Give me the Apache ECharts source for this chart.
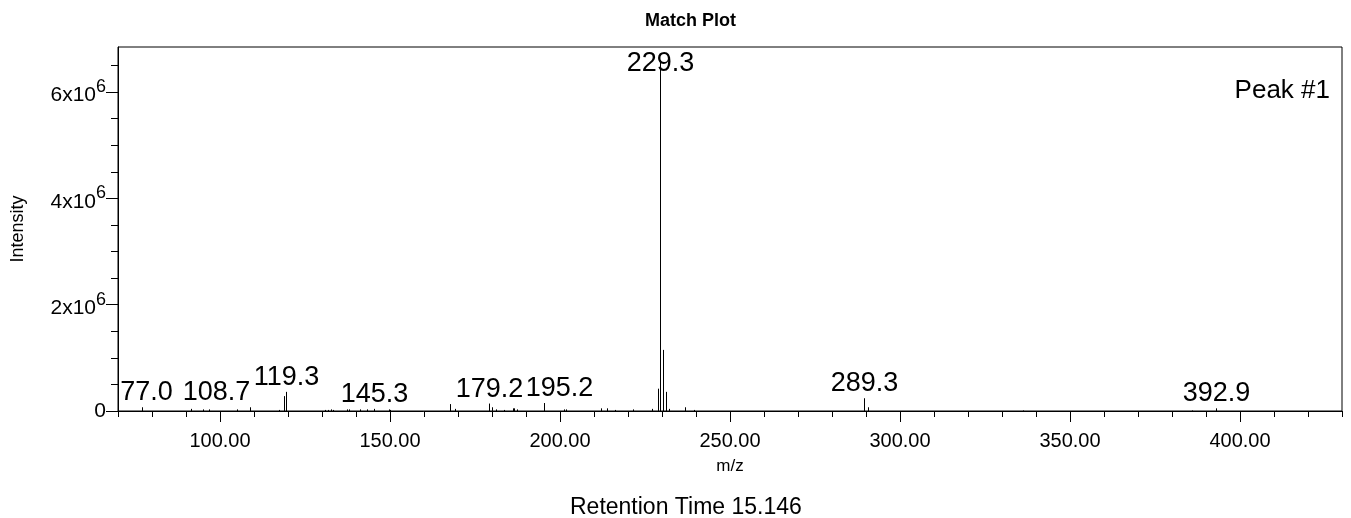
<!DOCTYPE html>
<html><head><meta charset="utf-8">
<script src="https://cdn.jsdelivr.net/npm/echarts@6/dist/echarts.min.js"></script>
<style>html,body{margin:0;padding:0;background:#fff}#c{width:1351px;height:518px}</style>
</head><body><div id="c"></div>
<script>
// ---- data ----
const mzValues = [77.0, 91.5, 95.0, 96.8, 105.1, 108.7, 117.3, 118.8, 119.3, 131.0, 131.8, 132.6, 133.2,
  137.3, 137.8, 141.2, 143.2, 145.3, 149.6, 150.1, 167.5, 169.0, 179.2, 180.1, 181.1, 183.4, 186.2, 186.6,
  187.4, 195.2, 201.3, 201.9, 212.2, 213.9, 216.3, 221.6, 227.2, 228.7, 229.3, 230.2, 231.2, 232.2, 236.9,
  239.3, 289.3, 290.6, 336.2, 386.0, 392.9];
const intensityMillions = [0.07, 0.04, 0.03, 0.03, 0.03, 0.07, 0.02, 0.28, 0.36, 0.02, 0.02, 0.03, 0.02,
  0.03, 0.03, 0.03, 0.03, 0.04, 0.03, 0.02, 0.13, 0.04, 0.14, 0.07, 0.03, 0.02, 0.05, 0.05,
  0.03, 0.15, 0.03, 0.03, 0.05, 0.05, 0.02, 0.03, 0.04, 0.42, 6.60, 1.15, 0.36, 0.04, 0.07,
  0.02, 0.24, 0.07, 0.01, 0.01, 0.05];
const labeledMz = [77.0, 108.7, 119.3, 145.3, 179.2, 195.2, 229.3, 289.3, 392.9];
const xMajorTicks = [100, 150, 200, 250, 300, 350, 400];
const yMajorTicks = [0, 2e6, 4e6, 6e6];
const titleText = 'Match Plot';
const peakName = 'Peak #1';
const retentionText = 'Retention Time 15.146';

// ---- layout / style ----
const X_MIN = 70, X_MAX = 430, Y_MAX = 6.85e6;
const FONT = '"Liberation Sans", Arial, sans-serif';
const LABEL_SIZE = 27;
const labelShift = { '77.0': 4, '108.7': -34, '195.2': 15 };

const yMinorTicks = [];
for (let v = 0; v <= 6.5e6 + 1; v += 0.5e6) yMinorTicks.push(v);

const seriesData = mzValues.map((mz, i) => [mz, intensityMillions[i] * 1e6, labeledMz.indexOf(mz)]);

const chart = echarts.init(document.getElementById('c'), null, { renderer: 'canvas' });

function renderItem(params, api) {
  const x = api.value(0), y = api.value(1);
  const li = api.value(2);
  const p0 = api.coord([x, 0]);
  const p1 = api.coord([x, y]);
  const px = Math.round(p0[0]) + 0.5;
  const children = [{
    type: 'line',
    shape: { x1: px, y1: p0[1], x2: px, y2: p1[1] },
    style: { stroke: '#000', lineWidth: 1 }
  }];
  if (li >= 0) {
    const lab = labeledMz[li].toFixed(1);
    const cs = params.coordSys;
    let ty = p1[1] - 1, va = 'bottom';
    if (ty - LABEL_SIZE < cs.y) { ty = cs.y + 3; va = 'top'; }
    children.push({
      type: 'text',
      x: px + (labelShift[lab] || 0),
      y: ty,
      style: {
        text: lab, fill: '#000',
        font: LABEL_SIZE + 'px ' + FONT,
        textAlign: 'center', textVerticalAlign: va
      }
    });
  }
  return { type: 'group', children };
}

function yLabel(v) {
  if (v === 0) return '{a|0}';
  return '{a|' + Math.round(v / 1e6) + 'x10}{b|6}';
}

const option = {
  animation: false,
  backgroundColor: '#fff',
  textStyle: { fontFamily: FONT, color: '#000' },
  grid: { left: 118, right: 9, top: 47, bottom: 107, show: true, borderColor: '#000', borderWidth: 1,
    backgroundColor: 'transparent', containLabel: false, outerBoundsMode: 'none' },
  xAxis: [{
    type: 'value', min: X_MIN, max: X_MAX, interval: 10, position: 'bottom',
    axisLine: { show: true, lineStyle: { color: '#000', width: 1 } },
    axisTick: { show: true, length: 6, lineStyle: { color: '#000' } },
    axisLabel: { show: false }, splitLine: { show: false }
  }, {
    type: 'value', min: X_MIN, max: X_MAX, position: 'bottom',
    axisLine: { show: false },
    axisTick: { show: true, length: 11, customValues: xMajorTicks, lineStyle: { color: '#000' } },
    axisLabel: { show: true, customValues: xMajorTicks, formatter: v => v.toFixed(2), fontSize: 20, color: '#000', margin: 20, fontFamily: FONT },
    splitLine: { show: false },
    name: 'm/z', nameLocation: 'middle', nameGap: 47, nameTextStyle: { fontSize: 17, color: '#000', fontFamily: FONT }
  }],
  yAxis: [{
    type: 'value', min: 0, max: Y_MAX, interval: 0.5e6, position: 'left',
    axisLine: { show: true, lineStyle: { color: '#000', width: 1 } },
    axisTick: { show: true, length: 7, customValues: yMinorTicks, lineStyle: { color: '#000' } },
    axisLabel: { show: false }, splitLine: { show: false }
  }, {
    type: 'value', min: 0, max: Y_MAX, position: 'left', offset: 0,
    axisLine: { show: false },
    axisTick: { show: true, length: 12, customValues: yMajorTicks, lineStyle: { color: '#000' } },
    axisLabel: {
      show: true, customValues: yMajorTicks, formatter: yLabel, margin: 12, color: '#000',
      fontSize: 21, fontFamily: FONT,
      rich: {
        a: { fontSize: 21, fontFamily: FONT, color: '#000', verticalAlign: 'bottom' },
        b: { fontSize: 18, fontFamily: FONT, color: '#000', verticalAlign: 'bottom', padding: [0, 0, 10, 0] }
      }
    },
    splitLine: { show: false },
    name: 'Intensity', nameLocation: 'middle', nameGap: 91, nameRotate: 90,
    nameTextStyle: { fontSize: 18, color: '#000', fontFamily: FONT }
  }],
  series: [{
    type: 'custom', name: 'spectrum', xAxisIndex: 0, yAxisIndex: 0,
    renderItem, clip: false,
    encode: { x: 0, y: 1 },
    data: seriesData
  }],
  graphic: [
    { type: 'text', left: 645, top: 12, style: { text: titleText, font: 'bold 18px ' + FONT, fill: '#000' } },
    { type: 'text', right: 21, top: 78, style: { text: peakName, font: '26px ' + FONT, fill: '#000' } },
    { type: 'text', left: 570, top: 496, style: { text: retentionText, font: '23px ' + FONT, fill: '#000' } }
  ]
};
chart.setOption(option);
</script></body></html>
